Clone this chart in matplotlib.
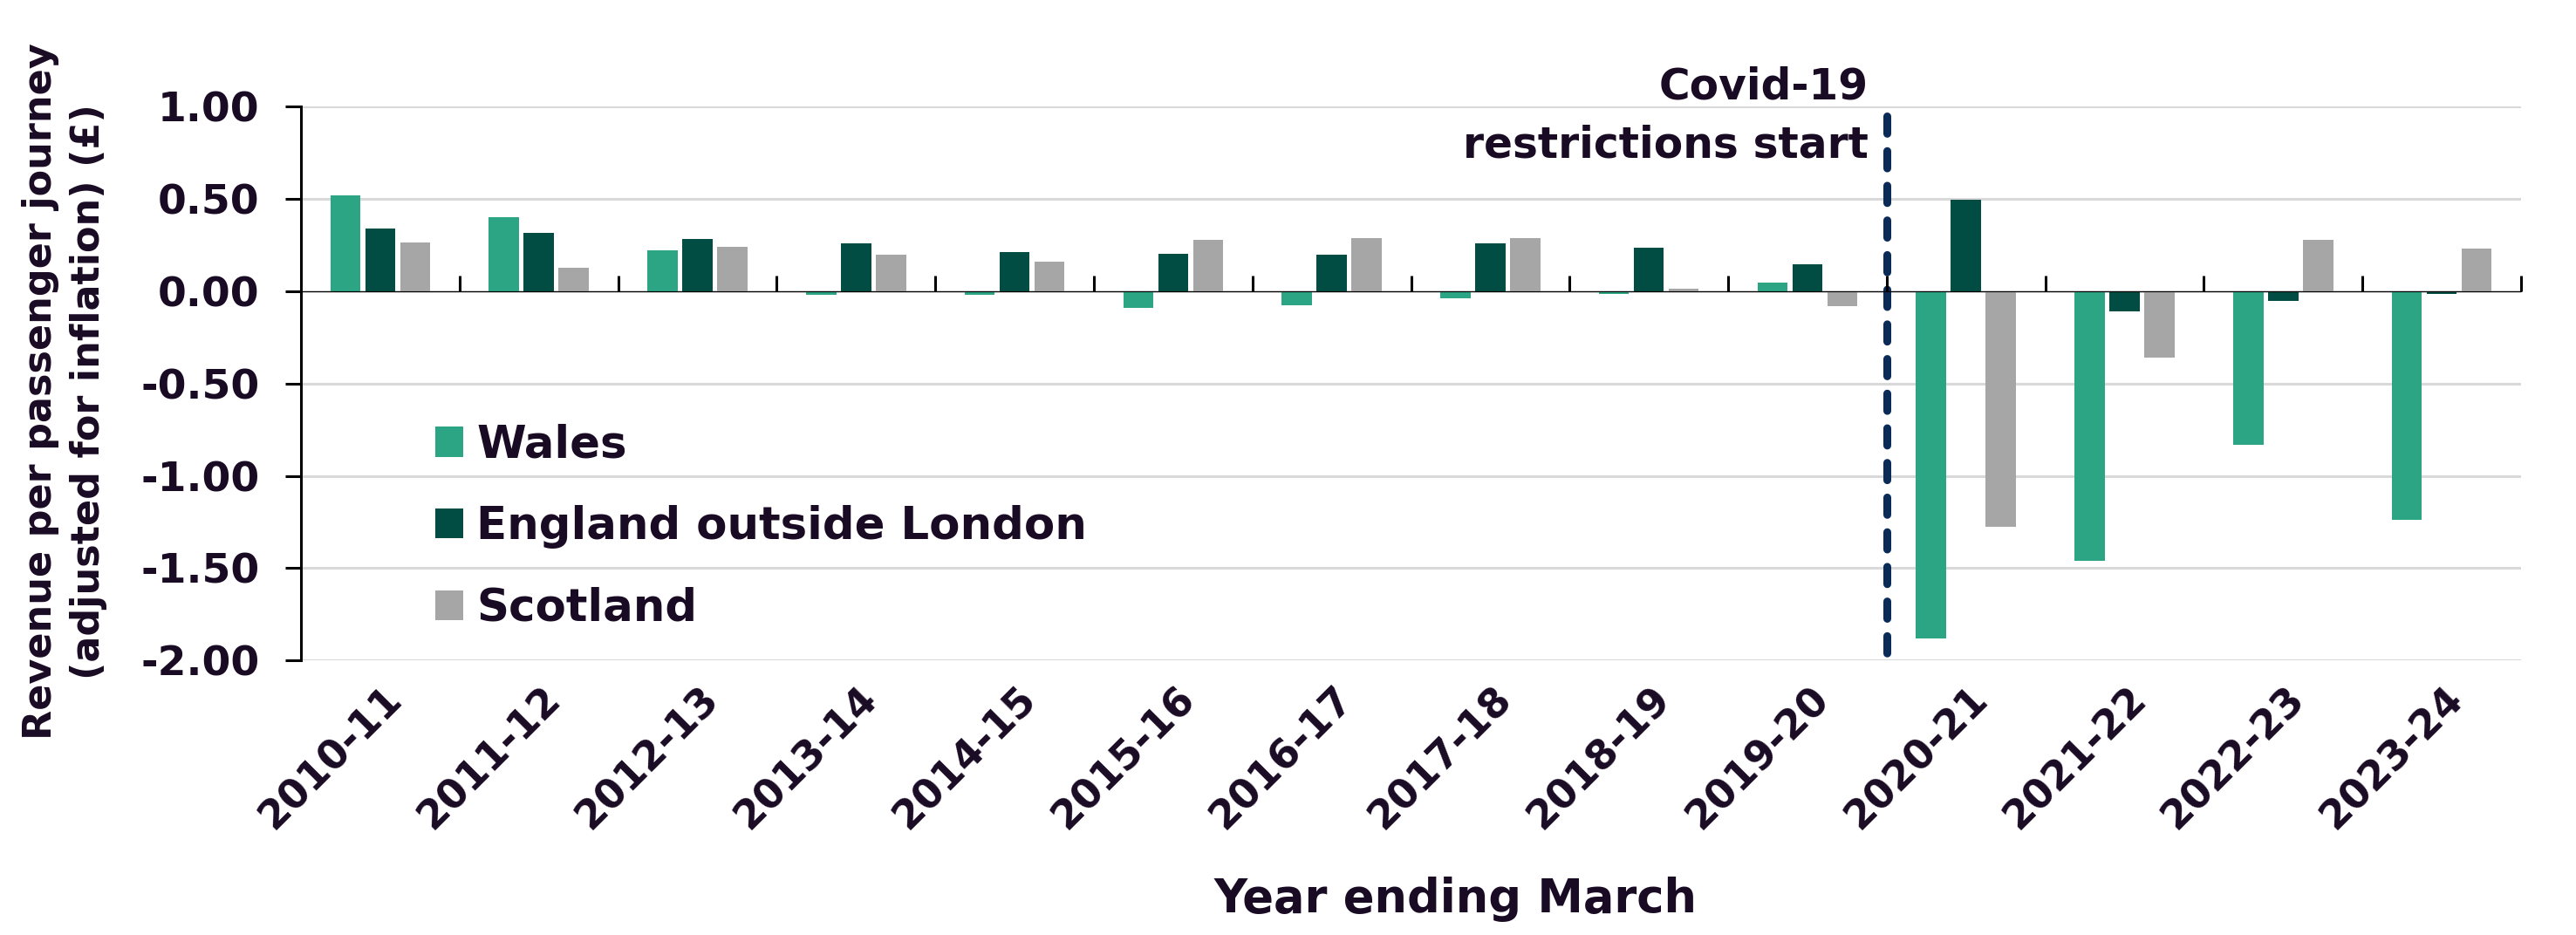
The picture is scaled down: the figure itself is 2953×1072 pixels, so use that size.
import numpy as np
import matplotlib
matplotlib.use("Agg")
import matplotlib.pyplot as plt
from matplotlib.transforms import ScaledTranslation

# ---------------- data ----------------
categories = ["2010-11", "2011-12", "2012-13", "2013-14", "2014-15", "2015-16",
              "2016-17", "2017-18", "2018-19", "2019-20", "2020-21", "2021-22",
              "2022-23", "2023-24"]
wales = [0.52, 0.40, 0.22, -0.02, -0.017, -0.089, -0.078, -0.038, -0.013, 0.046,
         -1.88, -1.46, -0.83, -1.24]
england = [0.34, 0.316, 0.283, 0.26, 0.213, 0.203, 0.196, 0.26, 0.236, 0.146,
           0.496, -0.108, -0.051, -0.013]
scotland = [0.264, 0.127, 0.24, 0.198, 0.16, 0.278, 0.289, 0.289, 0.015, -0.082,
            -1.274, -0.357, 0.278, 0.232]
series_names = ["Wales", "England outside London", "Scotland"]
yticks = [1.00, 0.50, 0.00, -0.50, -1.00, -1.50, -2.00]
covid_label = "Covid-19\nrestrictions start"
covid_start = "2020-21"

# ---------------- style ----------------
TXT = "#1a0b24"
colors = ["#2ba584", "#024d43", "#a6a6a6"]
plt.rcParams["font.family"] = ["DejaVu Sans"]
plt.rcParams["font.weight"] = "bold"

W, H = 2953, 1072
fig = plt.figure(figsize=(W / 100, H / 100), dpi=100)
ax_l, ax_r, ax_t, ax_b = 345, 2890, 122.3, 757.3
ax = fig.add_axes([ax_l / W, 1 - ax_b / H, (ax_r - ax_l) / W, (ax_b - ax_t) / H])

x = np.arange(len(categories))
width = 0.19
step = 0.22
for i, (vals, name, c) in enumerate(zip([wales, england, scotland], series_names, colors)):
    ax.bar(x + (i - 1) * step, vals, width=width, color=c, label=name,
           linewidth=0, zorder=2)

ymin, ymax = min(yticks), max(yticks)
ax.set_xlim(-0.5, len(categories) - 0.5)
ax.set_ylim(ymin, ymax)

# grid
ax.set_axisbelow(True)
ax.yaxis.grid(True, color="#d9d9d9", linewidth=2.2)
ax.xaxis.grid(False)

for s in ["top", "right", "bottom"]:
    ax.spines[s].set_visible(False)
ax.spines["left"].set_linewidth(2.2)
ax.spines["left"].set_color("black")

ax.set_yticks(yticks)
ax.set_yticklabels([f"{v:.2f}" for v in yticks])
ax.tick_params(axis="y", direction="out", length=13, width=2.2, color="black",
               pad=21, labelsize=34, labelcolor=TXT)

ax.set_xticks(x)
ax.set_xticklabels(categories)
ax.tick_params(axis="x", length=0, pad=47, labelsize=33, labelcolor=TXT)
shift = ScaledTranslation(0.18, 0.28, fig.dpi_scale_trans)
for lab in ax.get_xticklabels():
    lab.set_rotation(45)
    lab.set_ha("right")
    lab.set_va("center")
    lab.set_rotation_mode("anchor")
    lab.set_fontweight("bold")
    lab.set_transform(lab.get_transform() + shift)
for lab in ax.get_yticklabels():
    lab.set_fontweight("bold")

# zero line with category boundary ticks
zero_frac = (0 - ymin) / (ymax - ymin)
sec = ax.secondary_xaxis(zero_frac)
sec.set_xticks(x + 0.5)
sec.set_xticklabels([""] * len(x))
sec.tick_params(axis="x", direction="out", length=13, width=2.2, color="black")
sec.spines["bottom"].set_linewidth(2.6)
sec.spines["bottom"].set_color("black")
sec.set_zorder(5)

# labels
ax.set_xlabel("Year ending March", fontsize=38, fontweight="bold", color=TXT)
ax.xaxis.set_label_coords(0.52, -0.455)
ax.xaxis.label.set_va("baseline")

ax.set_ylabel("Revenue per passenger journey\n(adjusted for inflation) (£)",
              fontsize=32, fontweight="bold", color=TXT, linespacing=1.35,
              multialignment="center")
ax.yaxis.set_label_coords((123 - ax_l) / (ax_r - ax_l), 0.486)

# covid marker (drawn top -> bottom so the dash pattern starts at the top)
covid_x = categories.index(covid_start) - 0.5
ax.plot([covid_x, covid_x], [0.983, -0.012], transform=ax.get_xaxis_transform(),
        color="#0a2a57", linewidth=6.5, dashes=(2.2, 2.2),
        dash_capstyle="round", solid_capstyle="round", clip_on=False, zorder=4)
ax.annotate(covid_label, xy=(covid_x, ymax), xycoords="data",
            xytext=(-15, -42), textcoords="offset points",
            ha="right", va="baseline", multialignment="right",
            fontsize=35, fontweight="bold", color=TXT, linespacing=1.5)

# legend
leg = ax.legend(loc="upper left", bbox_to_anchor=(0.0605, 0.428), frameon=False,
                fontsize=37, handlelength=0.62, handleheight=0.66,
                handletextpad=0.3, labelspacing=0.85, borderpad=0,
                borderaxespad=0)
for t in leg.get_texts():
    t.set_color(TXT)
    t.set_fontweight("bold")

fig.savefig("out.png", dpi=100, facecolor="white")
